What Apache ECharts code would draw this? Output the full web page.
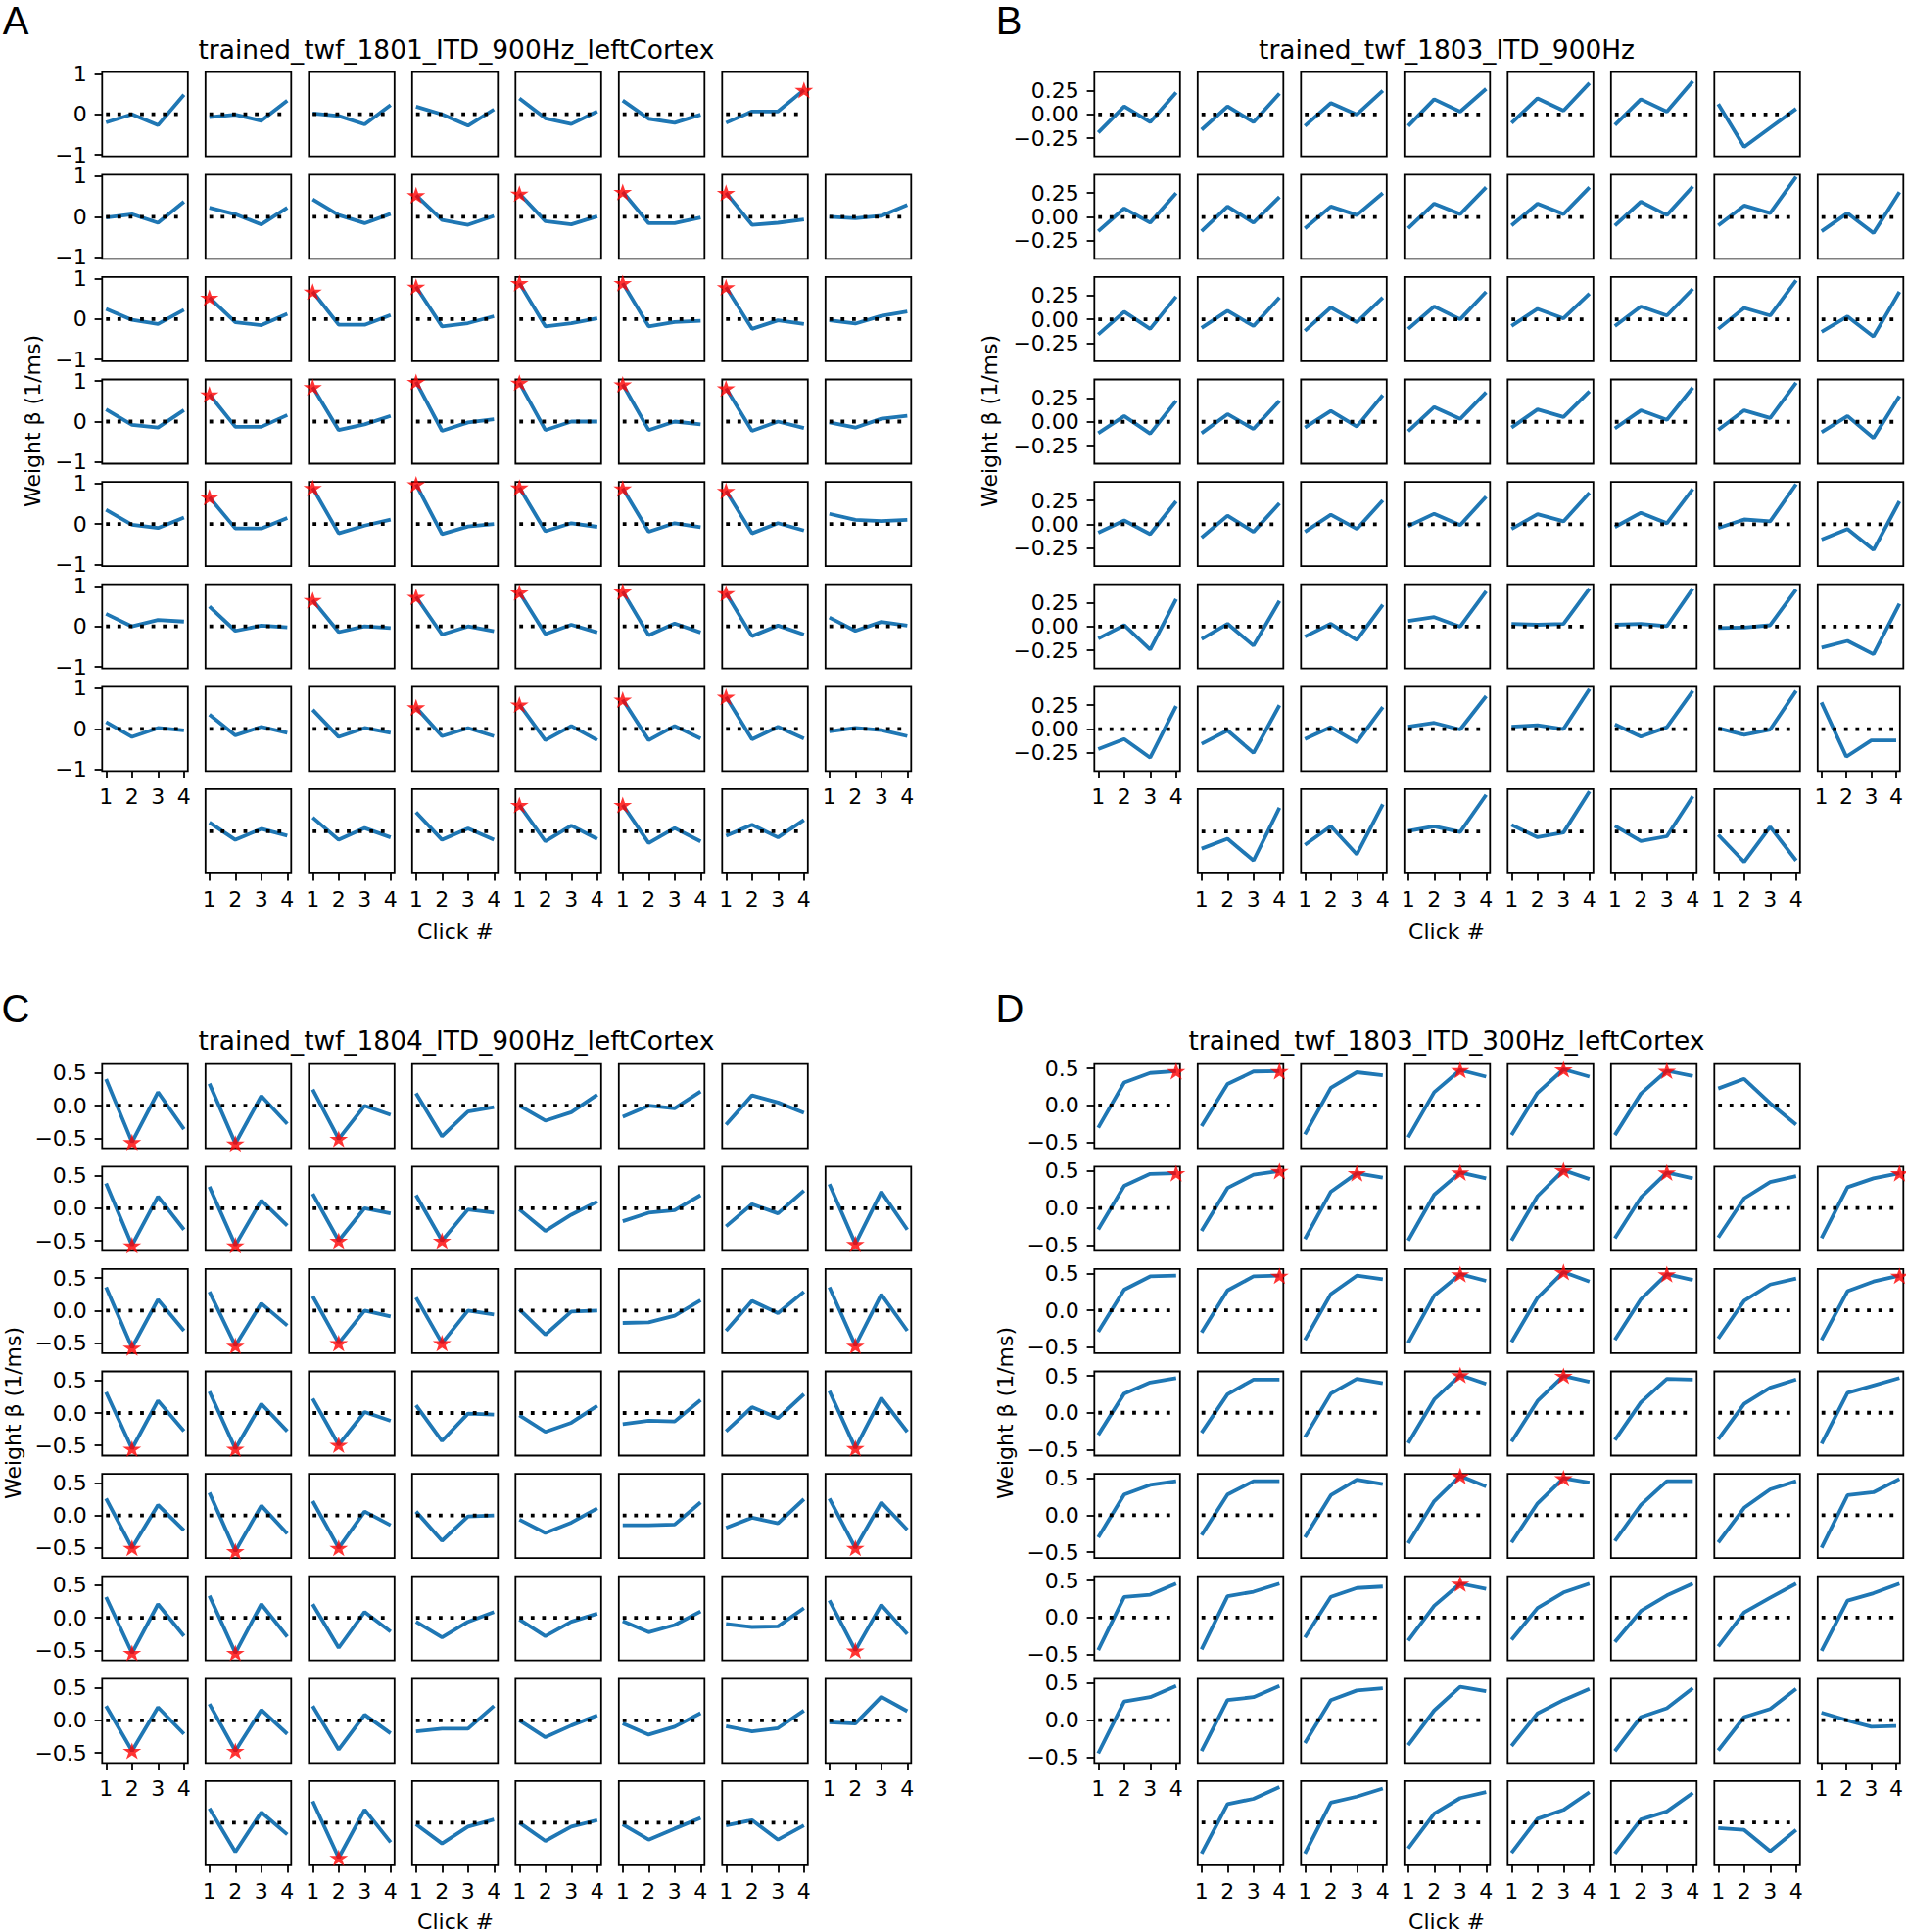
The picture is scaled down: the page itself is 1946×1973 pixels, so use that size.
<!DOCTYPE html>
<html><head><meta charset="utf-8">
<script src="https://cdn.jsdelivr.net/npm/echarts@6/dist/echarts.min.js"></script>
<style>html,body{margin:0;padding:0;background:#fff}#chart{width:1946px;height:1973px}</style>
</head><body><div id="chart"></div>
<script>
// ---------------- DATA ----------------
const clicks = [1, 2, 3, 4];
const yLabelText = 'Weight β (1/ms)';
const xLabelText = 'Click #';

const titleA = 'trained_twf_1801_ITD_900Hz_leftCortex';
const titleB = 'trained_twf_1803_ITD_900Hz';
const titleC = 'trained_twf_1804_ITD_900Hz_leftCortex';
const titleD = 'trained_twf_1803_ITD_300Hz_leftCortex';

const yTicksA = [-1, 0, 1];
const yTickLabelsA = ['−1', '0', '1'];
const yTicksB = [-0.25, 0, 0.25];
const yTickLabelsB = ['−0.25', '0.00', '0.25'];
const yTicksC = [-0.5, 0, 0.5];
const yTickLabelsC = ['−0.5', '0.0', '0.5'];
const yTicksD = [-0.5, 0, 0.5];
const yTickLabelsD = ['−0.5', '0.0', '0.5'];

// weights[row][col] = beta for clicks 1..4 (null = no unit)
const weightsA = [
 [[-0.2,0.0,-0.27,0.48],[-0.07,-0.01,-0.16,0.34],[0.02,-0.04,-0.25,0.23],[0.19,0.0,-0.28,0.12],[0.39,-0.1,-0.24,0.07],[0.34,-0.11,-0.21,-0.01],[-0.21,0.07,0.07,0.6],null],
 [[-0.02,0.06,-0.15,0.37],[0.22,0.06,-0.19,0.22],[0.43,0.04,-0.16,0.07],[0.53,-0.08,-0.2,0.02],[0.57,-0.11,-0.19,0.01],[0.61,-0.16,-0.16,-0.02],[0.59,-0.2,-0.15,-0.07],[0.0,-0.04,0.02,0.29]],
 [[0.25,-0.02,-0.12,0.23],[0.53,-0.08,-0.15,0.13],[0.68,-0.14,-0.14,0.1],[0.8,-0.18,-0.1,0.07],[0.89,-0.18,-0.1,0.02],[0.89,-0.18,-0.07,-0.04],[0.79,-0.24,-0.03,-0.12],[-0.03,-0.11,0.08,0.19]],
 [[0.3,-0.08,-0.15,0.28],[0.67,-0.13,-0.13,0.16],[0.85,-0.21,-0.07,0.14],[0.98,-0.23,-0.02,0.06],[0.96,-0.21,0.0,0.0],[0.92,-0.21,0.0,-0.07],[0.82,-0.23,0.0,-0.16],[-0.02,-0.15,0.07,0.14]],
 [[0.35,-0.02,-0.1,0.16],[0.66,-0.11,-0.11,0.15],[0.89,-0.23,-0.04,0.11],[0.98,-0.25,-0.06,0.0],[0.9,-0.18,0.02,-0.07],[0.88,-0.19,0.02,-0.08],[0.82,-0.23,0.02,-0.16],[0.25,0.1,0.07,0.1]],
 [[0.31,0.0,0.16,0.12],[0.49,-0.11,0.02,-0.02],[0.65,-0.14,0.0,-0.04],[0.73,-0.2,0.0,-0.12],[0.84,-0.19,0.04,-0.15],[0.86,-0.22,0.07,-0.15],[0.82,-0.24,0.02,-0.2],[0.22,-0.11,0.11,0.02]],
 [[0.17,-0.2,0.02,-0.04],[0.35,-0.16,0.05,-0.1],[0.47,-0.2,0.02,-0.1],[0.53,-0.18,0.02,-0.18],[0.6,-0.28,0.07,-0.28],[0.72,-0.28,0.07,-0.24],[0.79,-0.26,0.05,-0.24],[-0.06,0.02,-0.03,-0.18]],
 [null,[0.22,-0.21,0.06,-0.11],[0.34,-0.21,0.08,-0.15],[0.47,-0.21,0.07,-0.21],[0.65,-0.25,0.14,-0.19],[0.65,-0.29,0.08,-0.25],[-0.11,0.16,-0.15,0.28],null]
];
// stars: [row, col, click]
const starsA = [[0,6,4],[1,3,1],[1,4,1],[1,5,1],[1,6,1],[2,1,1],[2,2,1],[2,3,1],[2,4,1],[2,5,1],[2,6,1],
 [3,1,1],[3,2,1],[3,3,1],[3,4,1],[3,5,1],[3,6,1],[4,1,1],[4,2,1],[4,3,1],[4,4,1],[4,5,1],[4,6,1],
 [5,2,1],[5,3,1],[5,4,1],[5,5,1],[5,6,1],[6,3,1],[6,4,1],[6,5,1],[6,6,1],[7,4,1],[7,5,1]];

const weightsB = [
 [[-0.19,0.085,-0.08,0.23],[-0.16,0.085,-0.08,0.22],[-0.12,0.12,0.0,0.25],[-0.12,0.16,0.03,0.27],[-0.09,0.17,0.04,0.33],[-0.11,0.16,0.03,0.35],[0.11,-0.34,-0.14,0.06],null],
 [[-0.15,0.09,-0.06,0.25],[-0.15,0.11,-0.06,0.21],[-0.12,0.11,0.02,0.25],[-0.12,0.14,0.03,0.31],[-0.09,0.14,0.03,0.31],[-0.09,0.16,0.02,0.32],[-0.09,0.12,0.04,0.42],[-0.15,0.04,-0.17,0.26]],
 [[-0.16,0.08,-0.1,0.24],[-0.09,0.09,-0.07,0.23],[-0.12,0.125,-0.03,0.23],[-0.1,0.135,0.0,0.29],[-0.07,0.11,0.01,0.27],[-0.07,0.135,0.04,0.32],[-0.1,0.12,0.04,0.41],[-0.13,0.03,-0.18,0.29]],
 [[-0.12,0.06,-0.125,0.22],[-0.12,0.08,-0.075,0.22],[-0.06,0.115,-0.05,0.28],[-0.1,0.155,0.03,0.31],[-0.06,0.13,0.05,0.32],[-0.07,0.12,0.02,0.36],[-0.085,0.12,0.04,0.41],[-0.11,0.06,-0.17,0.27]],
 [[-0.09,0.04,-0.105,0.24],[-0.14,0.09,-0.08,0.22],[-0.08,0.1,-0.05,0.25],[-0.02,0.11,-0.01,0.29],[-0.05,0.105,0.03,0.33],[-0.03,0.12,0.01,0.37],[-0.04,0.05,0.03,0.42],[-0.16,-0.05,-0.27,0.24]],
 [[-0.125,0.015,-0.24,0.29],[-0.13,0.03,-0.2,0.27],[-0.105,0.03,-0.14,0.23],[0.06,0.1,0.0,0.37],[0.03,0.02,0.03,0.4],[0.02,0.03,0.005,0.4],[-0.015,-0.01,0.015,0.39],[-0.22,-0.15,-0.29,0.24]],
 [[-0.21,-0.105,-0.3,0.24],[-0.155,-0.015,-0.25,0.25],[-0.105,0.02,-0.14,0.23],[0.025,0.065,-0.005,0.345],[0.025,0.04,0.0,0.42],[0.05,-0.08,0.02,0.4],[0.01,-0.06,-0.005,0.4],[0.28,-0.29,-0.12,-0.12]],
 [null,[-0.18,-0.075,-0.305,0.25],[-0.14,0.055,-0.24,0.285],[0.005,0.055,-0.005,0.385],[0.07,-0.06,-0.01,0.42],[0.06,-0.1,-0.05,0.37],[-0.035,-0.32,0.05,-0.305],null]
];
const starsB = [];

const weightsC = [
 [[0.41,-0.56,0.21,-0.36],[0.34,-0.58,0.15,-0.28],[0.25,-0.51,0.0,-0.14],[0.19,-0.47,-0.09,-0.02],[0.0,-0.23,-0.1,0.17],[-0.17,0.0,-0.04,0.22],[-0.29,0.16,0.05,-0.11],null],
 [[0.38,-0.57,0.18,-0.33],[0.33,-0.57,0.12,-0.27],[0.22,-0.5,0.0,-0.08],[0.2,-0.5,-0.02,-0.07],[-0.02,-0.35,-0.1,0.1],[-0.2,-0.07,-0.03,0.2],[-0.28,0.06,-0.08,0.27],[0.37,-0.55,0.25,-0.33]],
 [[0.36,-0.57,0.17,-0.31],[0.29,-0.54,0.11,-0.23],[0.22,-0.5,0.0,-0.09],[0.2,-0.5,0.0,-0.06],[0.02,-0.37,-0.015,0.0],[-0.19,-0.18,-0.08,0.16],[-0.31,0.15,-0.04,0.29],[0.36,-0.54,0.25,-0.31]],
 [[0.32,-0.55,0.19,-0.28],[0.33,-0.55,0.14,-0.28],[0.22,-0.49,0.015,-0.12],[0.12,-0.43,-0.01,-0.025],[-0.035,-0.29,-0.15,0.11],[-0.17,-0.12,-0.13,0.2],[-0.28,0.09,-0.08,0.29],[0.34,-0.54,0.23,-0.29]],
 [[0.26,-0.5,0.16,-0.23],[0.35,-0.55,0.15,-0.28],[0.22,-0.5,0.06,-0.15],[0.06,-0.39,-0.015,0.0],[-0.065,-0.27,-0.11,0.11],[-0.15,-0.15,-0.14,0.2],[-0.19,-0.035,-0.12,0.25],[0.26,-0.5,0.2,-0.22]],
 [[0.32,-0.54,0.21,-0.28],[0.34,-0.54,0.21,-0.29],[0.21,-0.46,0.09,-0.21],[-0.06,-0.3,-0.06,0.09],[-0.025,-0.28,-0.06,0.065],[-0.05,-0.22,-0.11,0.1],[-0.095,-0.14,-0.13,0.15],[0.27,-0.5,0.2,-0.25]],
 [[0.22,-0.47,0.2,-0.21],[0.25,-0.47,0.16,-0.21],[0.22,-0.45,0.085,-0.2],[-0.17,-0.13,-0.13,0.22],[0.0,-0.26,-0.08,0.075],[-0.05,-0.22,-0.1,0.11],[-0.09,-0.17,-0.12,0.15],[-0.03,-0.05,0.36,0.14]],
 [null,[0.22,-0.45,0.16,-0.18],[0.33,-0.54,0.2,-0.3],[-0.025,-0.32,-0.06,0.05],[0.0,-0.28,-0.06,0.04],[-0.025,-0.26,-0.09,0.075],[-0.04,0.04,-0.26,-0.04],null]
];
const starsC = [[0,0,2],[0,1,2],[0,2,2],[1,0,2],[1,1,2],[1,2,2],[1,3,2],[1,7,2],[2,0,2],[2,1,2],[2,2,2],[2,3,2],[2,7,2],
 [3,0,2],[3,1,2],[3,2,2],[3,7,2],[4,0,2],[4,1,2],[4,2,2],[4,7,2],[5,0,2],[5,1,2],[5,7,2],[6,0,2],[6,1,2],[7,2,2]];

const weightsD = [
 [[-0.3,0.31,0.44,0.465],[-0.28,0.29,0.46,0.465],[-0.39,0.24,0.45,0.41],[-0.43,0.18,0.48,0.39],[-0.4,0.17,0.49,0.39],[-0.4,0.16,0.47,0.4],[0.23,0.36,0.03,-0.26],null],
 [[-0.29,0.3,0.46,0.47],[-0.31,0.27,0.45,0.5],[-0.42,0.22,0.47,0.41],[-0.44,0.18,0.48,0.4],[-0.44,0.16,0.51,0.39],[-0.41,0.14,0.48,0.4],[-0.4,0.13,0.35,0.43],[-0.41,0.28,0.4,0.47]],
 [[-0.29,0.28,0.46,0.47],[-0.3,0.27,0.46,0.47],[-0.4,0.22,0.47,0.42],[-0.44,0.2,0.49,0.4],[-0.43,0.17,0.52,0.39],[-0.4,0.15,0.49,0.41],[-0.38,0.13,0.35,0.43],[-0.4,0.26,0.39,0.47]],
 [[-0.3,0.26,0.41,0.47],[-0.27,0.25,0.45,0.45],[-0.33,0.26,0.46,0.4],[-0.41,0.18,0.51,0.39],[-0.39,0.16,0.5,0.42],[-0.37,0.14,0.46,0.45],[-0.36,0.12,0.34,0.45],[-0.42,0.27,0.37,0.47]],
 [[-0.3,0.28,0.41,0.46],[-0.27,0.28,0.46,0.46],[-0.3,0.27,0.48,0.42],[-0.38,0.19,0.53,0.39],[-0.37,0.16,0.5,0.44],[-0.35,0.14,0.46,0.46],[-0.37,0.1,0.35,0.46],[-0.44,0.27,0.31,0.49]],
 [[-0.44,0.28,0.31,0.46],[-0.43,0.29,0.35,0.46],[-0.27,0.28,0.4,0.42],[-0.31,0.16,0.46,0.39],[-0.3,0.13,0.34,0.46],[-0.33,0.09,0.3,0.46],[-0.39,0.07,0.27,0.46],[-0.45,0.23,0.33,0.46]],
 [[-0.45,0.25,0.31,0.46],[-0.42,0.27,0.31,0.46],[-0.31,0.27,0.4,0.43],[-0.34,0.13,0.45,0.39],[-0.35,0.09,0.27,0.42],[-0.42,0.04,0.16,0.43],[-0.41,0.04,0.15,0.42],[0.1,0.0,-0.09,-0.08]],
 [null,[-0.42,0.25,0.32,0.48],[-0.42,0.27,0.35,0.46],[-0.35,0.12,0.33,0.41],[-0.41,0.05,0.17,0.41],[-0.42,0.04,0.15,0.4],[-0.075,-0.1,-0.39,-0.1],null]
];
const starsD = [[0,0,4],[0,1,4],[0,3,3],[0,4,3],[0,5,3],[1,0,4],[1,1,4],[1,2,3],[1,3,3],[1,4,3],[1,5,3],[1,7,4],
 [2,1,4],[2,3,3],[2,4,3],[2,5,3],[2,7,4],[3,3,3],[3,4,3],[4,3,3],[4,4,3],[5,3,3]];

// ---------------- LAYOUT / STYLE ----------------
const CELL_W = 87.5, CELL_H = 86, COL_STEP = 105.5, ROW_STEP = 104.6;
const FONT = "'DejaVu Sans', sans-serif";
const LINE_BLUE = '#1f77b4';

const PANELS = [
 {letter:'A', title:titleA, weights:weightsA, stars:starsA, yTicks:yTicksA, yTickLabels:yTickLabelsA, yMin:-1.04, yMax:1.04,
  left:104.3, top:73.7, letterPos:[16,21], titlePos:[466,50], yLabelPos:[33,430], xLabelPos:[465,951]},
 {letter:'B', title:titleB, weights:weightsB, stars:starsB, yTicks:yTicksB, yTickLabels:yTickLabelsB, yMin:-0.44, yMax:0.445,
  left:1117.3, top:73.7, letterPos:[1030,21], titlePos:[1477,50], yLabelPos:[1010,430], xLabelPos:[1477,951]},
 {letter:'C', title:titleC, weights:weightsC, stars:starsC, yTicks:yTicksC, yTickLabels:yTickLabelsC, yMin:-0.655, yMax:0.64,
  left:104.3, top:1086.7, letterPos:[16,1030], titlePos:[466,1062], yLabelPos:[13,1443], xLabelPos:[465,1962]},
 {letter:'D', title:titleD, weights:weightsD, stars:starsD, yTicks:yTicksD, yTickLabels:yTickLabelsD, yMin:-0.58, yMax:0.56,
  left:1117.3, top:1086.7, letterPos:[1031,1030], titlePos:[1477,1062], yLabelPos:[1026,1443], xLabelPos:[1477,1962]}
];

const STAR_PATH = (function () {
  let d = 'path://';
  for (let i = 0; i < 10; i++) {
    const a = -Math.PI / 2 + i * Math.PI / 5;
    const r = i % 2 ? 0.382 : 1;
    d += (i ? 'L' : 'M') + (r * Math.cos(a)).toFixed(4) + ' ' + (r * Math.sin(a)).toFixed(4) + ' ';
  }
  return d + 'Z';
})();

const option = {animation:false, backgroundColor:'#ffffff', grid:[], xAxis:[], yAxis:[], series:[], graphic:[]};

function txt(text, x, y, size, family, rotation) {
  return {type:'text', x:x, y:y, rotation:rotation || 0, silent:true,
    style:{text:text, x:0, y:0, fill:'#000', font: size + 'px ' + family, fontSize:size, fontFamily:family,
      align:'center', verticalAlign:'middle', textAlign:'center', textVerticalAlign:'middle'}};
}

PANELS.forEach(function (p) {
  const nRows = p.weights.length;
  p.weights.forEach(function (row, r) {
    row.forEach(function (vals, c) {
      if (!vals) return;
      const g = option.grid.length;
      const isLeft = c === 0;
      const isBottom = (r === nRows - 1) || !p.weights[r + 1][c];
      option.grid.push({left: p.left + c * COL_STEP, top: p.top + r * ROW_STEP, width: CELL_W, height: CELL_H,
        show: true, borderColor: '#000', borderWidth: 1.8, backgroundColor: 'rgba(0,0,0,0)'});
      option.xAxis.push({gridIndex: g, type: 'value', min: 0.85, max: 4.15,
        axisLine: {show: false, onZero: false}, splitLine: {show: false},
        axisTick: {show: isBottom, customValues: clicks, length: 7.7, lineStyle: {color: '#000', width: 1.8}},
        axisLabel: {show: isBottom, customValues: clicks, margin: 15.5, fontSize: 22, fontFamily: FONT, color: '#000',
          formatter: function (v) { return String(Math.round(v)); }}});
      option.yAxis.push({gridIndex: g, type: 'value', min: p.yMin, max: p.yMax,
        axisLine: {show: false, onZero: false}, splitLine: {show: false},
        axisTick: {show: isLeft, customValues: p.yTicks, length: 7.7, lineStyle: {color: '#000', width: 1.8}},
        axisLabel: {show: isLeft, customValues: p.yTicks, margin: 15.5, fontSize: 22, fontFamily: FONT, color: '#000',
          formatter: function (v) {
            let best = 0;
            p.yTicks.forEach(function (t, i) { if (Math.abs(t - v) < Math.abs(p.yTicks[best] - v)) best = i; });
            return p.yTickLabels[best];
          }}});
      option.series.push({type: 'line', xAxisIndex: g, yAxisIndex: g, silent: true, z: 2,
        data: clicks.map(function (x, i) { return [x, vals[i]]; }),
        symbol: 'none', showSymbol: false, clip: true,
        lineStyle: {color: LINE_BLUE, width: 3.8}});
      option.series.push({type: 'line', xAxisIndex: g, yAxisIndex: g, silent: true, z: 3,
        data: [[clicks[0], 0], [clicks[clicks.length - 1], 0]],
        symbol: 'none', showSymbol: false,
        lineStyle: {color: '#000', width: 3.8, type: [3.8, 7.8]}});
      const st = p.stars.filter(function (s) { return s[0] === r && s[1] === c; });
      if (st.length) {
        option.series.push({type: 'scatter', xAxisIndex: g, yAxisIndex: g, silent: true, z: 4, clip: true,
          data: st.map(function (s) { return [clicks[s[2] - 1], vals[s[2] - 1]]; }),
          symbol: STAR_PATH, symbolSize: [19, 18], symbolKeepAspect: true,
          itemStyle: {color: '#ff0000', borderWidth: 0}});
      }
    });
  });
  option.graphic.push(txt(p.letter, p.letterPos[0], p.letterPos[1], 40, "'Liberation Sans', Arial, sans-serif"));
  option.graphic.push(txt(p.title, p.titlePos[0], p.titlePos[1], 26.4, FONT));
  option.graphic.push(txt(yLabelText, p.yLabelPos[0], p.yLabelPos[1], 22, FONT, Math.PI / 2));
  option.graphic.push(txt(xLabelText, p.xLabelPos[0], p.xLabelPos[1], 22, FONT));
});

const chart = echarts.init(document.getElementById('chart'), null, {renderer: 'svg', width: 1946, height: 1973});
chart.setOption(option);
</script>
</body></html>
